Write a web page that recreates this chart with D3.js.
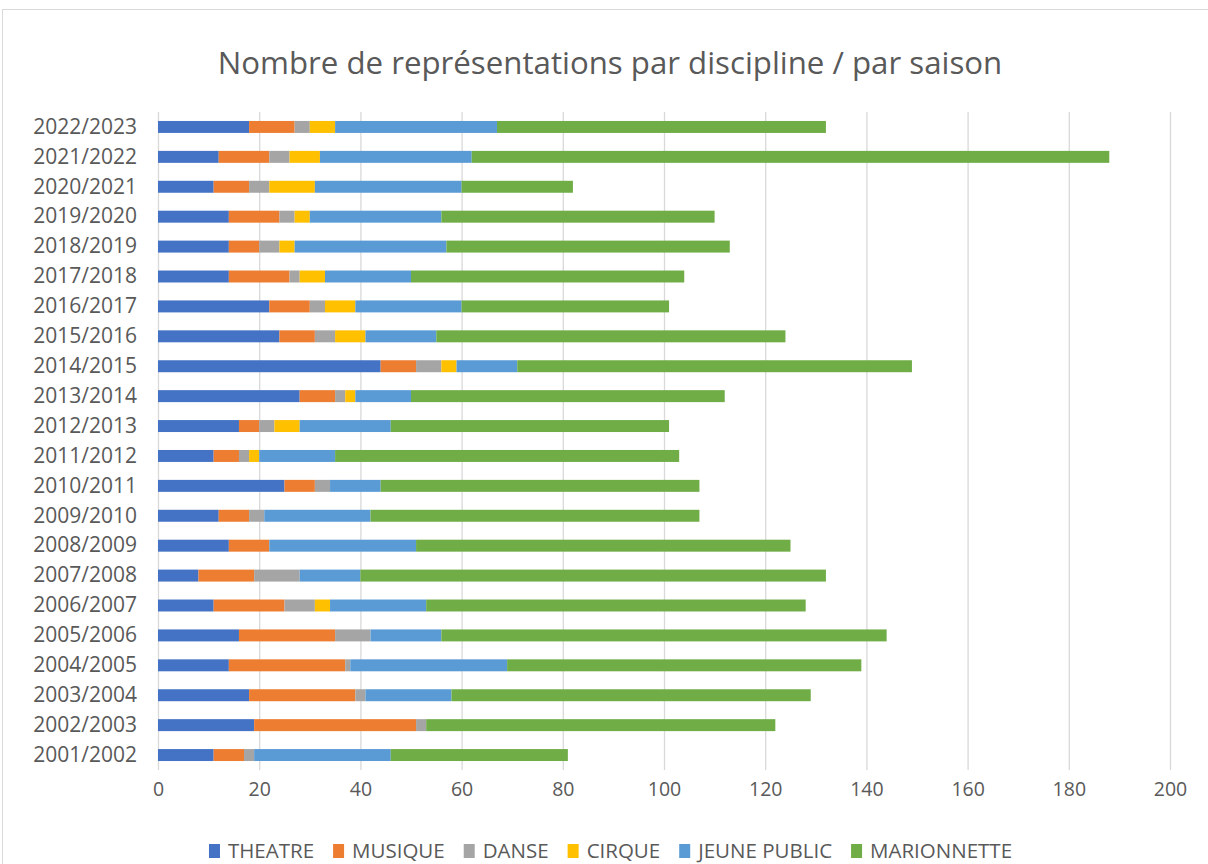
<!DOCTYPE html>
<html>
<head>
<meta charset="utf-8">
<script src="https://cdn.jsdelivr.net/npm/d3@7"></script>
<style>
  body { margin: 0; background: #fff; }
  text { font-family: "Open Sans", "Noto Sans", sans-serif; fill: #595959; }
</style>
</head>
<body>
<script>
// saisons, de la plus ancienne a la plus recente
var seasons = ["2001/2002", "2002/2003", "2003/2004", "2004/2005", "2005/2006", "2006/2007",
    "2007/2008", "2008/2009", "2009/2010", "2010/2011", "2011/2012", "2012/2013",
    "2013/2014", "2014/2015", "2015/2016", "2016/2017", "2017/2018", "2018/2019",
    "2019/2020", "2020/2021", "2021/2022", "2022/2023"];

var disciplines = ["THEATRE", "MUSIQUE", "DANSE", "CIRQUE", "JEUNE PUBLIC", "MARIONNETTE"];

var theatre     = [11, 19, 18, 14, 16, 11,  8, 14, 12, 25, 11, 16, 28, 44, 24, 22, 14, 14, 14, 11, 12, 18];
var musique     = [ 6, 32, 21, 23, 19, 14, 11,  8,  6,  6,  5,  4,  7,  7,  7,  8, 12,  6, 10,  7, 10,  9];
var danse       = [ 2,  2,  2,  1,  7,  6,  9,  0,  3,  3,  2,  3,  2,  5,  4,  3,  2,  4,  3,  4,  4,  3];
var cirque      = [ 0,  0,  0,  0,  0,  3,  0,  0,  0,  0,  2,  5,  2,  3,  6,  6,  5,  3,  3,  9,  6,  5];
var jeunePublic = [27,  0, 17, 31, 14, 19, 12, 29, 21, 10, 15, 18, 11, 12, 14, 21, 17, 30, 26, 29, 30, 32];
var marionnette = [35, 69, 71, 70, 88, 75, 92, 74, 65, 63, 68, 55, 62, 78, 69, 41, 54, 56, 54, 22, 126, 65];

var xTicks = [0, 20, 40, 60, 80, 100, 120, 140, 160, 180, 200];

var colors = ["#4472C4", "#ED7D31", "#A5A5A5", "#FFC000", "#5B9BD5", "#70AD47"];

var series = [theatre, musique, danse, cirque, jeunePublic, marionnette];
var table = seasons.map(function(s, i) {
    var row = {season: s};
    disciplines.forEach(function(d, j) { row[d] = series[j][i]; });
    return row;
});

var W = 1208, H = 864;
var plotLeft = 158, plotRight = 1170, plotTop = 112, plotBottom = 770;

var svg = d3.select("body").append("svg")
    .attr("width", W)
    .attr("height", H);

svg.append("rect")
    .attr("width", W).attr("height", H)
    .attr("fill", "#fff");

// cadre du graphique
svg.append("rect")
    .attr("x", 2.5).attr("y", 9.5)
    .attr("width", W + 20).attr("height", H + 20)
    .attr("fill", "none")
    .attr("stroke", "#d9d9d9");

var x = d3.scaleLinear()
    .domain([0, 200])
    .range([plotLeft, plotRight]);

var y = d3.scaleBand()
    .domain(seasons.slice().reverse())
    .range([plotTop, plotBottom])
    .paddingInner(0.6)
    .paddingOuter(0.3);

// titre
var title = svg.append("text")
    .attr("x", 610)
    .attr("y", 74)
    .attr("text-anchor", "middle")
    .style("font-size", "30px")
    .text("Nombre de représentations par discipline / par saison");
var tw = title.node().getComputedTextLength();
title.style("font-size", (30 * 785 / tw) + "px");

// grille verticale
svg.append("g")
    .selectAll("line")
    .data(xTicks)
    .enter().append("line")
    .attr("x1", function(d) { return x(d) + 0.5; })
    .attr("x2", function(d) { return x(d) + 0.5; })
    .attr("y1", plotTop)
    .attr("y2", plotBottom)
    .attr("stroke", "#d9d9d9")
    .attr("stroke-width", 1.3);

// axe x
var xAxis = svg.append("g")
    .attr("transform", "translate(0," + plotBottom + ")")
    .call(d3.axisBottom(x).tickValues(xTicks).tickSize(0).tickPadding(8));
xAxis.select(".domain").remove();
xAxis.selectAll("text")
    .style("font-size", "19.5px")
    .attr("fill", "#595959")
    .attr("dy", "0.9em");

// axe y
var yAxis = svg.append("g")
    .attr("transform", "translate(" + plotLeft + ",0)")
    .call(d3.axisLeft(y).tickSize(0).tickPadding(21));
yAxis.select(".domain").remove();
yAxis.selectAll("text")
    .style("font-size", "21px")
    .attr("fill", "#595959");

// barres empilees
var stacked = d3.stack().keys(disciplines)(table);

svg.append("g")
    .selectAll("g")
    .data(stacked)
    .enter().append("g")
    .attr("fill", function(d, i) { return colors[i]; })
    .selectAll("rect")
    .data(function(d) { return d; })
    .enter().append("rect")
    .attr("x", function(d) { return x(d[0]); })
    .attr("y", function(d) { return y(d.data.season); })
    .attr("width", function(d) { return x(d[1]) - x(d[0]); })
    .attr("height", y.bandwidth());

// legende
var legend = svg.append("g");
var lx = 0;
disciplines.forEach(function(d, i) {
    var item = legend.append("g").attr("transform", "translate(" + lx + ",0)");
    item.append("rect")
        .attr("x", 0).attr("y", -7)
        .attr("width", 11).attr("height", 14)
        .attr("fill", colors[i]);
    var t = item.append("text")
        .attr("x", 19)
        .attr("y", 0)
        .attr("dy", "0.35em")
        .style("font-size", "20.5px")
        .text(d);
    lx += 19 + t.node().getComputedTextLength() + 19;
});
lx -= 19;
legend.attr("transform", "translate(" + (610.5 - lx / 2) + ",851)");
</script>
</body>
</html>
